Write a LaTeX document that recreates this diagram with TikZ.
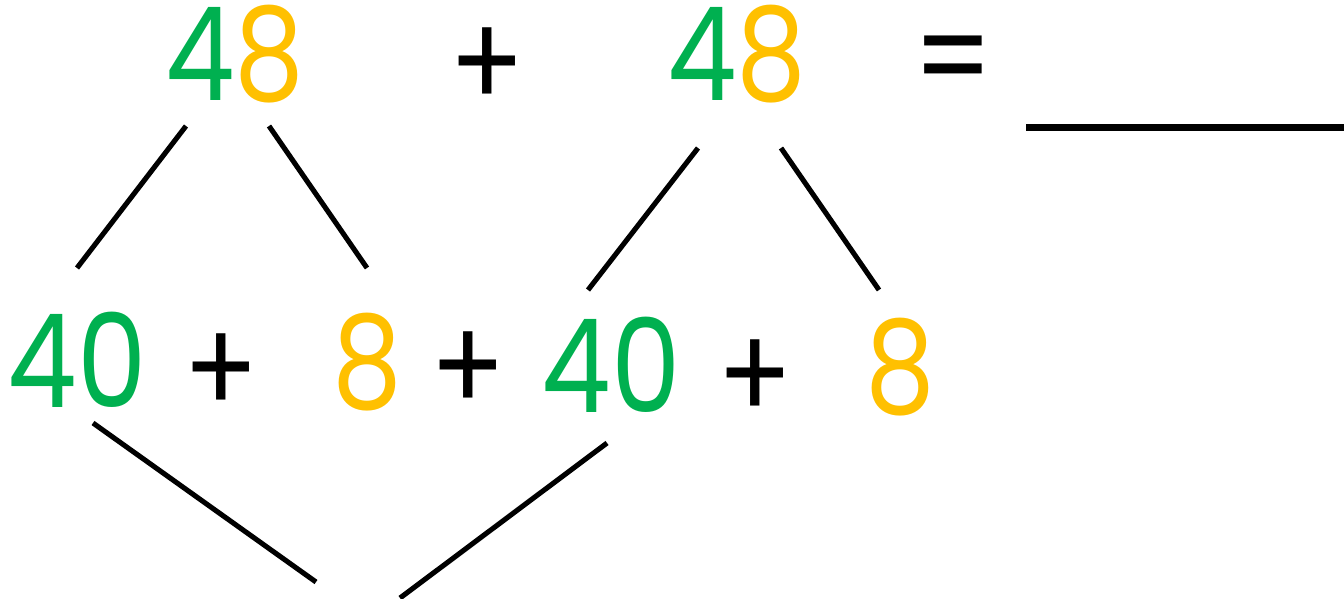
\documentclass[tikz,border=0pt]{standalone}
\usepackage{fontspec}
\setmainfont{Poppins}[FakeStretch=0.85]
\usepackage{tikz}
\usetikzlibrary{positioning}
\definecolor{tensgreen}{HTML}{00B050}
\definecolor{onesgold}{HTML}{FFC000}

\begin{document}
\begin{tikzpicture}[
  x=0.02cm, y=-0.02cm,
  num/.style={inner sep=0pt, anchor=base,
              font=\fontsize{74}{80}\selectfont},
  tens/.style={num, text=tensgreen},
  ones/.style={num, text=onesgold},
  sym/.style={num, anchor=center, text=black},
  leg/.style={line width=2.9pt, black},
]
  \useasboundingbox (0,0) rectangle (1344,598);

  % top row: 48 + 48 = ___
  \node[num] (lhsA) at (235,100)
    {\textcolor{tensgreen}{4}\textcolor{onesgold}{8}};
  \node[sym] (plusTop) at (487,68) {+};
  \node[num] (lhsB) at (737,100)
    {\textcolor{tensgreen}{4}\textcolor{onesgold}{8}};
  \node[sym] (equals) at (953,69) {=};
  \coordinate (blankL) at (1026,127.5);
  \coordinate (blankR) at (1344,127.5);
  \draw[leg, line width=4pt] (blankL) -- (blankR);

  % partitioned row
  \node[tens] (tensA) at (77,407) {40};
  \node[sym]  (plusA) at (221,374) {+};
  \node[ones] (onesA) at (367,408) {8};
  \node[sym]  (plusB) at (468,372) {+};
  \node[tens] (tensB) at (611,412) {40};
  \node[sym]  (plusC) at (755,380) {+};
  \node[ones] (onesB) at (900,413) {8};

  % split legs
  \coordinate (splitA) at (186,126);
  \coordinate (splitB) at (269,126);
  \coordinate (splitC) at (698,148);
  \coordinate (splitD) at (781,148);
  \coordinate (legA) at (77,268);
  \coordinate (legB) at (367,268);
  \coordinate (legC) at (588,290);
  \coordinate (legD) at (879,290);
  \draw[leg] (splitA) -- (legA);
  \draw[leg] (splitB) -- (legB);
  \draw[leg] (splitC) -- (legC);
  \draw[leg] (splitD) -- (legD);

  % tens joined below
  \coordinate (joinA) at (93,423);
  \coordinate (joinB) at (607,443);
  \coordinate (meetA) at (316,582);
  \coordinate (meetB) at (400,598);
  \draw[leg] (joinA) -- (meetA);
  \draw[leg] (joinB) -- (meetB);
\end{tikzpicture}
\end{document}
